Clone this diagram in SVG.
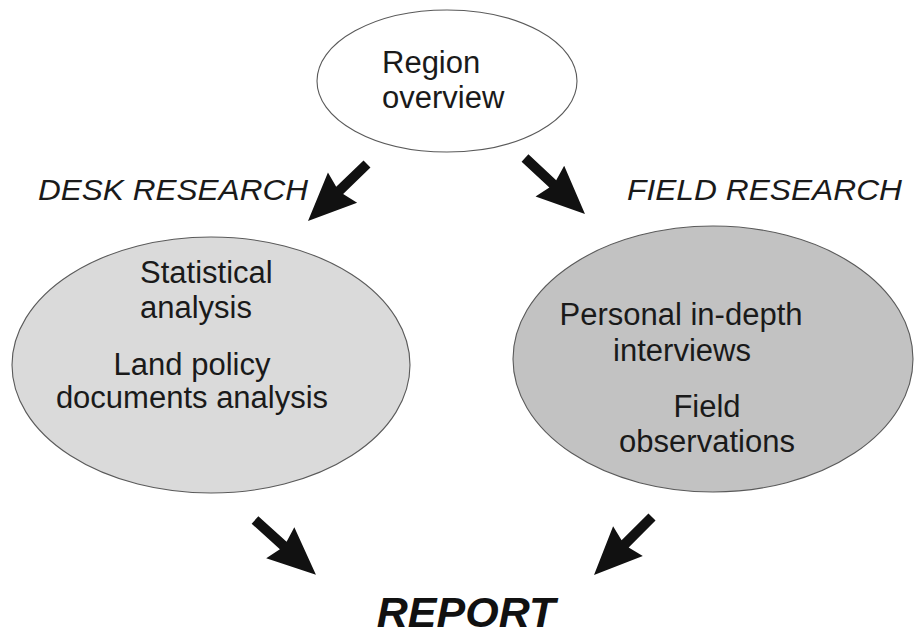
<svg xmlns="http://www.w3.org/2000/svg" xmlns:xlink="http://www.w3.org/1999/xlink" width="915" height="635" viewBox="0 0 915 635">
  <style>
    .lbl { font-family: "Liberation Sans", Arial, sans-serif; font-size: 31px; fill: #1a1a1a; }
    .head { font-family: "Liberation Sans", Arial, sans-serif; font-size: 29px; font-style: italic; fill: #1a1a1a; }
    .report { font-family: "Liberation Sans", Arial, sans-serif; font-size: 43px; font-style: italic; font-weight: bold; fill: #111; }
    .oval { stroke: #5a5a5a; stroke-width: 1.1; }
    .arrow { fill: #111; }
  </style>
  <defs>
    <!-- thick block arrow pointing along +x, tail at the origin -->
    <path id="blockArrow" class="arrow" d="M0,-5 L38,-5 L34,-21 L82,0 L34,21 L38,5 L0,5 Z"/>
  </defs>

  <rect width="915" height="635" fill="#fff"/>

  <g id="region-overview">
    <ellipse class="oval" cx="447" cy="81" rx="130" ry="71" fill="#fff"/>
    <text class="lbl" x="382" y="73">Region</text>
    <text class="lbl" x="382" y="108">overview</text>
  </g>

  <g id="desk-research-label">
    <text class="head" x="38" y="200" textLength="270" lengthAdjust="spacingAndGlyphs">DESK RESEARCH</text>
  </g>

  <g id="field-research-label">
    <text class="head" x="627" y="200" textLength="275" lengthAdjust="spacingAndGlyphs">FIELD RESEARCH</text>
  </g>

  <g id="desk-research">
    <ellipse class="oval" cx="211" cy="365" rx="199" ry="128" fill="#dadada"/>
    <text class="lbl" x="140" y="283">Statistical</text>
    <text class="lbl" x="140" y="318">analysis</text>
    <text class="lbl" x="192" y="375" text-anchor="middle">Land policy</text>
    <text class="lbl" x="192" y="408" text-anchor="middle">documents analysis</text>
  </g>

  <g id="field-research">
    <ellipse class="oval" cx="713" cy="359" rx="200" ry="133" fill="#c2c2c2"/>
    <text class="lbl" x="681" y="325" text-anchor="middle">Personal in-depth</text>
    <text class="lbl" x="682" y="361" text-anchor="middle">interviews</text>
    <text class="lbl" x="707" y="417" text-anchor="middle">Field</text>
    <text class="lbl" x="707" y="452" text-anchor="middle">observations</text>
  </g>

  <g id="report">
    <text class="report" x="466" y="627" text-anchor="middle">REPORT</text>
  </g>

  <g id="connectors">
    <use xlink:href="#blockArrow" transform="translate(367,164) rotate(136)"/>
    <use xlink:href="#blockArrow" transform="translate(525,158) rotate(43)"/>
    <use xlink:href="#blockArrow" transform="translate(255,520) rotate(42)"/>
    <use xlink:href="#blockArrow" transform="translate(652,517) rotate(135)"/>
  </g>
</svg>
